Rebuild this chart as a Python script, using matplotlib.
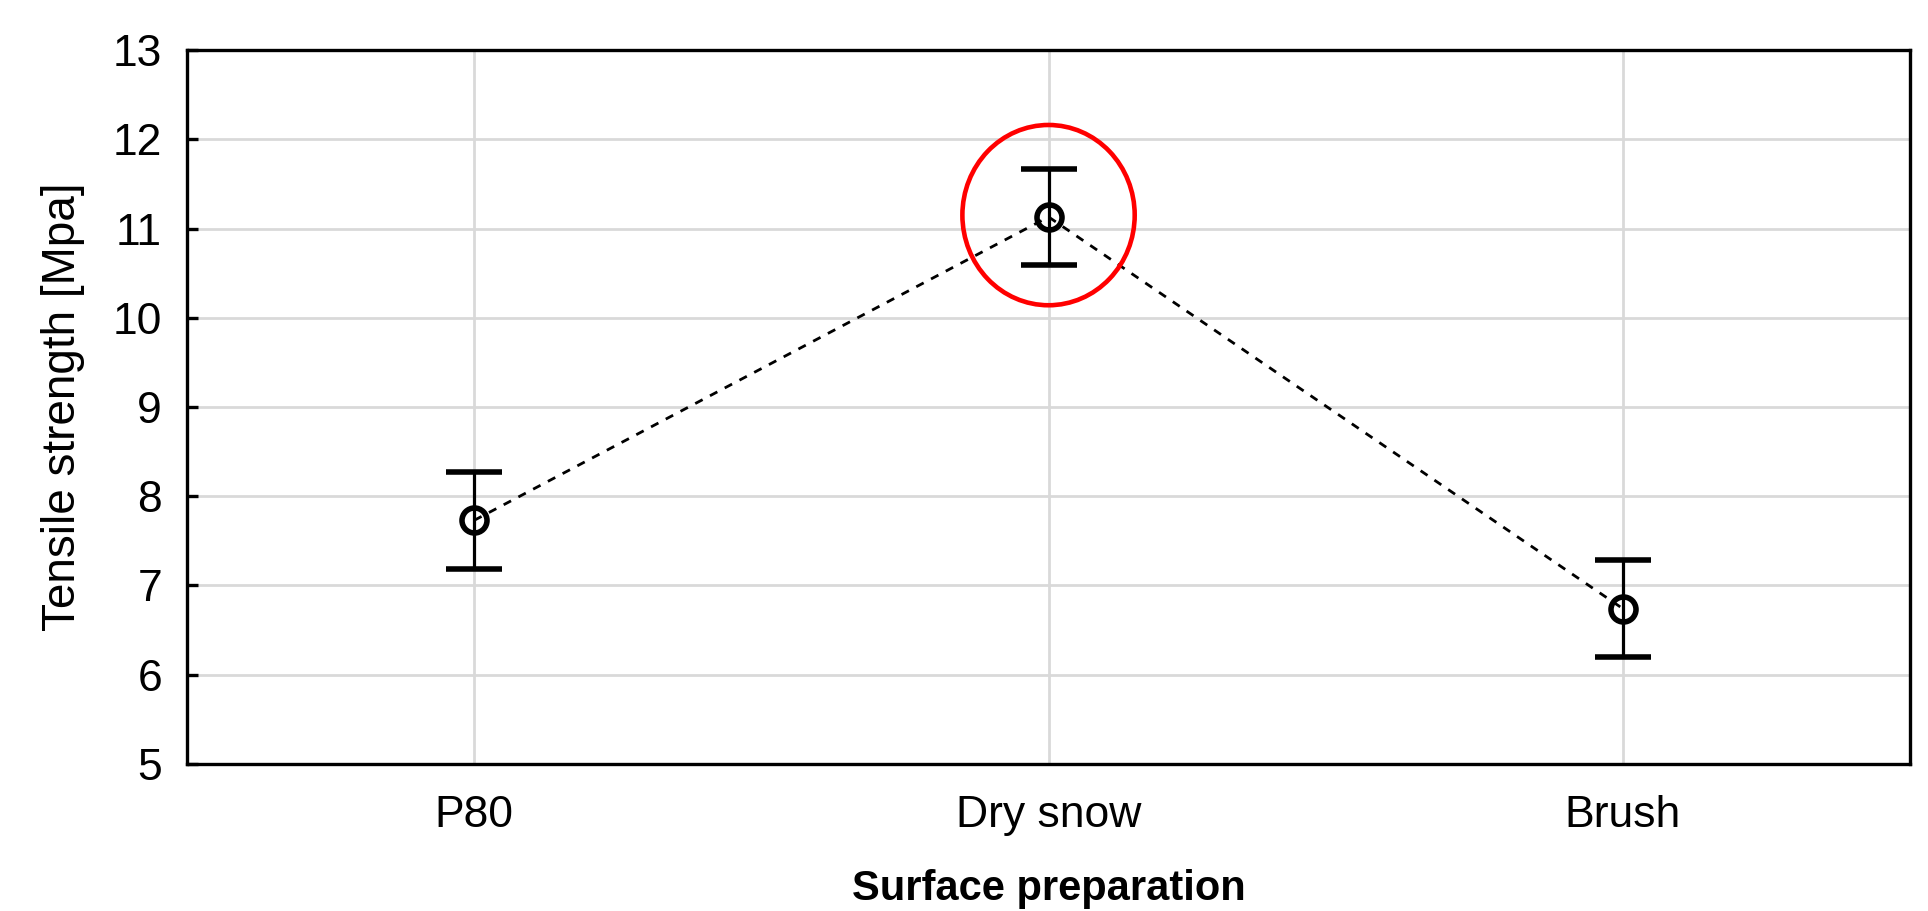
import numpy as np
import matplotlib
matplotlib.use("Agg")
import matplotlib.pyplot as plt
from matplotlib.patches import Ellipse

# data
categories = ["P80", "Dry snow", "Brush"]
means = [7.73, 11.13, 6.74]
errors = [0.54, 0.54, 0.545]
y_ticks = [5, 6, 7, 8, 9, 10, 11, 12, 13]

plt.rcParams['font.family'] = ['Liberation Sans', 'DejaVu Sans']

fig = plt.figure(figsize=(19.28, 9.11), dpi=100)
ax = fig.add_axes([0.097, 0.1614, 0.8937, 0.7837])

x = np.arange(len(categories))

# dashed connecting line
ax.plot(x, means, color='black', linewidth=2.0, linestyle=(0, (3, 3)), zorder=3)

# error bars with hollow circle markers
ax.errorbar(x, means, yerr=errors, fmt='o', color='black', markersize=18,
            markerfacecolor='none', markeredgewidth=4.0, elinewidth=2.3,
            capsize=20, capthick=2.3, zorder=4)

# red highlight around the maximum
best = int(np.argmax(means))
ax.add_patch(Ellipse((x[best], means[best] + 0.02), width=0.30, height=2.02,
                     fill=False, edgecolor='red', linewidth=3.3, zorder=5))

ax.set_xlim(-0.5, 2.5)
ax.set_ylim(5, 13)
ax.set_xticks(x)
ax.set_xticklabels(categories)
ax.set_yticks(y_ticks)

ax.grid(True, color='#d9d9d9', linewidth=2.0)
ax.set_axisbelow(True)

for sp in ax.spines.values():
    sp.set_linewidth(2.4)

ax.tick_params(axis='y', direction='in', length=8, width=2.4, labelsize=32, pad=18)
ax.tick_params(axis='x', length=0, labelsize=32, pad=22)

ax.set_ylabel('Tensile strength [Mpa]', fontsize=33, labelpad=20)
ax.set_xlabel('Surface preparation', fontsize=30, fontweight='bold', labelpad=24)

fig.savefig('out.png', dpi=100)
